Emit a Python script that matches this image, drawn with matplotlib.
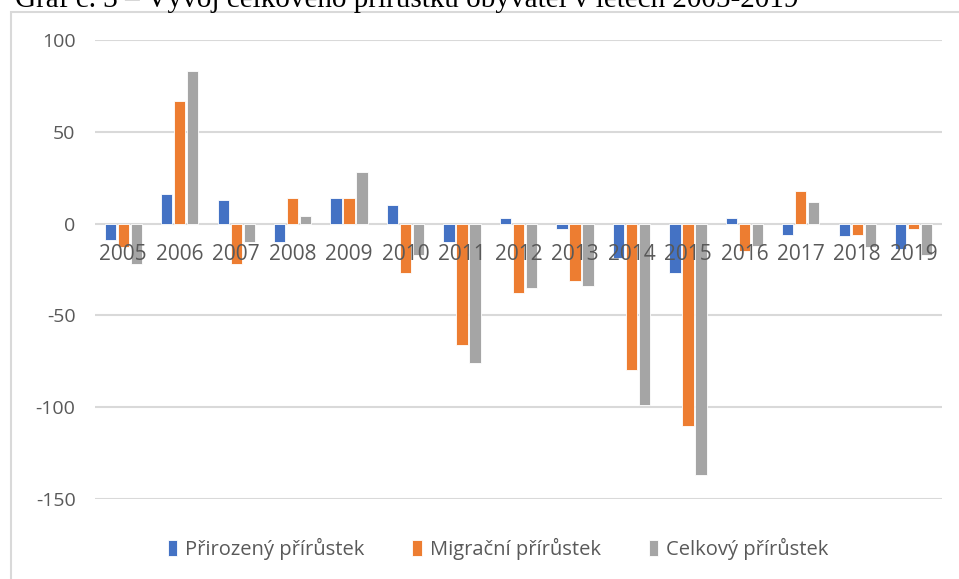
import matplotlib.pyplot as plt
import numpy as np
from matplotlib.patches import Rectangle

years = ['2005', '2006', '2007', '2008', '2009', '2010', '2011', '2012',
         '2013', '2014', '2015', '2016', '2017', '2018', '2019']
prirozeny = [-9, 16, 13, -10, 14, 10, -10, 3, -3, -19, -27, 3, -6, -7, -14]
migracni = [-13, 67, -22, 14, 14, -27, -66, -38, -31, -80, -110, -15, 18, -6, -3]
celkovy = [-22, 83, -10, 4, 28, -17, -76, -35, -34, -99, -137, -12, 12, -13, -17]

series = ['Přirozený přírůstek', 'Migrační přírůstek', 'Celkový přírůstek']
colors = ['#4472C4', '#ED7D31', '#A5A5A5']

plt.rcParams['font.family'] = ['Open Sans', 'DejaVu Sans']

fig = plt.figure(figsize=(9.59, 5.79), dpi=100)
ax = fig.add_axes([95/959, 1-499/579, (942-95)/959, (499-40)/579])

x = np.arange(len(years))
w = 0.2
step = 0.23
for k, (vals, name, c) in enumerate(zip([prirozeny, migracni, celkovy], series, colors)):
    ax.bar(x + (k-1)*step, vals, width=w, color=c, edgecolor='white',
           linewidth=0.6, label=name, zorder=3)

ax.set_xlim(-0.5, len(years)-0.5)
ax.set_ylim(-150, 100)
ax.set_yticks([-150, -100, -50, 0, 50, 100])
ax.set_yticklabels(['-150', '-100', '-50', '0', '50', '100'])
ax.tick_params(axis='y', length=0, labelsize=14, labelcolor='#595959', pad=14)
ax.set_xticks([])
ax.grid(axis='y', color='#D9D9D9', linewidth=1.5, zorder=0)
for s in ax.spines.values():
    s.set_visible(False)

# popisky roku u nulove osy (nad sloupci)
for i, y in enumerate(years):
    ax.annotate(y, xy=(i, 0), xytext=(0, -22), textcoords='offset points',
                ha='center', va='center', fontsize=15, color='#595959', zorder=6)

fig.legend(loc='center', bbox_to_anchor=(498/959, 1-549/579), ncol=3,
           frameon=False, fontsize=14.5, handlelength=0.45, handleheight=0.8,
           handletextpad=0.4, columnspacing=2.4, labelcolor='#595959')

# ramecek grafu
fig.patches.append(Rectangle((11/959, -0.1), 1.2, 1.1 - 12/579, transform=fig.transFigure,
                             fill=False, edgecolor='#D9D9D9', linewidth=1.5))

fig.text(15/959, 1-7/579, 'Graf č. 3 – Vývoj celkového přírůstku obyvatel v letech 2005-2019',
         family=['Liberation Serif'], fontsize=21, va='baseline', ha='left', color='black')

fig.savefig('out.png', dpi=100)
